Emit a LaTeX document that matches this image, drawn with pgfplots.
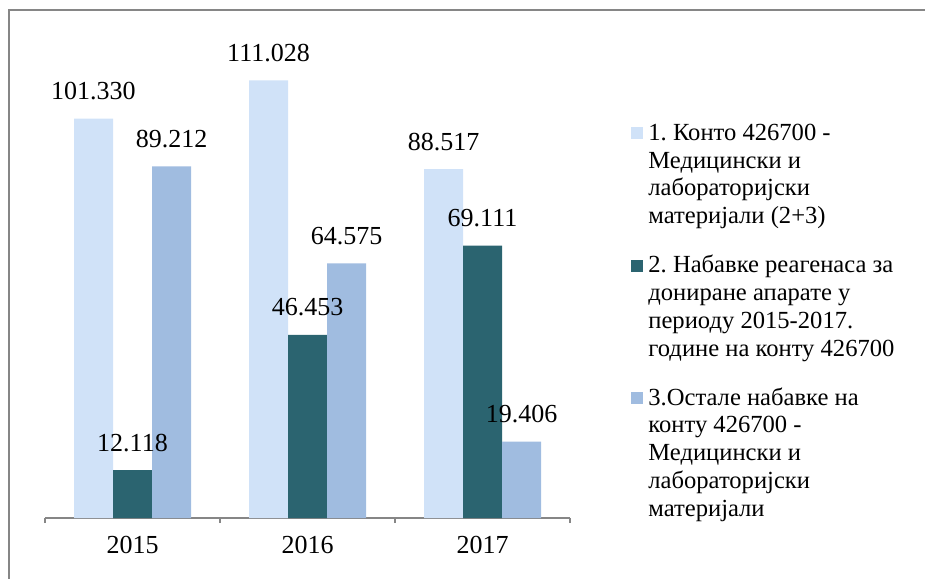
\documentclass[border=0pt]{standalone}
\usepackage{fontspec}
\setmainfont{Liberation Serif}
\usepackage{pgfplots}
\pgfplotsset{compat=1.18}
\frenchspacing
\definecolor{cLight}{RGB}{208,226,248}
\definecolor{cDark}{RGB}{43,100,112}
\definecolor{cMid}{RGB}{160,188,224}
\definecolor{cAxis}{RGB}{134,134,134}
\pgfplotsset{sq legend/.style={legend image code/.code={\fill[##1,draw=none] (0pt,0.35em-3pt) rectangle (6pt,0.35em+3pt);}}}
\begin{document}
\begin{tikzpicture}
\useasboundingbox (0,0) rectangle (462.5pt,289pt);
\draw[cAxis, line width=1.2pt] (4.5pt,-5pt) -- (4.5pt,284pt) -- (470pt,284pt);
\begin{axis}[
  at={(22.5pt,30pt)}, anchor=south west,
  scale only axis, width=262.5pt, height=236.5pt,
  ybar=0pt, bar width=19.5pt,
  xmin=-0.5, xmax=2.5, ymin=0, ymax=120,
  axis x line=bottom, axis y line=none,
  x axis line style={-, cAxis, line width=1pt},
  xtick={0,1,2}, xticklabels={2015,2016,2017},
  minor xtick={-0.5,0.5,1.5,2.5},
  major tick length=0pt, minor tick length=2.5pt,
  tick align=outside,
  tick style={cAxis, line width=1pt},
  xticklabel style={font=\fontsize{13}{15.6}\selectfont, yshift=-5.5pt},
  ytick=\empty,
  clip=false,
  point meta=explicit symbolic,
  nodes near coords,
  every node near coord/.append style={font=\fontsize{13}{15.6}\selectfont, anchor=center, yshift=13.75pt, inner sep=0pt},
  legend cell align=left,
  legend style={draw=none, fill=none, inner sep=0pt, at={(1.1162,0.8404)}, anchor=north west,
    font=\fontsize{12.3}{13.9}\selectfont, cells={anchor=base west}, row sep=0pt, column sep=2.5pt,
    nodes={inner sep=0pt, text height=9.73pt, text depth=4.17pt}},
]
\addplot[fill=cLight, draw=none, sq legend] coordinates {(0,101.330) [101.330] (1,111.028) [111.028] (2,88.517) [88.517]};
\addlegendentry{1. Конто 426700 -}
\addlegendimage{empty legend}\addlegendentry{Медицински и}
\addlegendimage{empty legend}\addlegendentry{лабораторијски}
\addlegendimage{empty legend}\addlegendentry[text depth=14.77pt]{материјали (2+3)}
\addplot[fill=cDark, draw=none, sq legend] coordinates {(0,12.118) [12.118] (1,46.453) [46.453] (2,69.111) [69.111]};
\addlegendentry{2. Набавке реагенаса за}
\addlegendimage{empty legend}\addlegendentry{дониране апарате у}
\addlegendimage{empty legend}\addlegendentry{периоду 2015-2017.}
\addlegendimage{empty legend}\addlegendentry[text depth=14.77pt]{године на конту 426700}
\addplot[fill=cMid, draw=none, sq legend] coordinates {(0,89.212) [89.212] (1,64.575) [64.575] (2,19.406) [19.406]};
\addlegendentry{3.Остале набавке на}
\addlegendimage{empty legend}\addlegendentry{конту 426700 -}
\addlegendimage{empty legend}\addlegendentry{Медицински и}
\addlegendimage{empty legend}\addlegendentry{лабораторијски}
\addlegendimage{empty legend}\addlegendentry{материјали}
\end{axis}
\end{tikzpicture}
\end{document}
